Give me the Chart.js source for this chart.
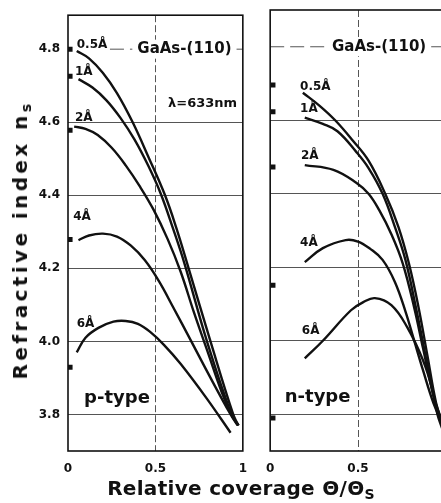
<!DOCTYPE html>
<html lang="en">
<head>
<meta charset="UTF-8">
<title>GaAs-(110) refractive index vs coverage</title>
<script src="https://cdn.jsdelivr.net/npm/chart.js"></script>
<style>
  html, body { margin: 0; padding: 0; background: #fff; overflow: hidden; width: 441px; height: 503px; }
  canvas { position: absolute; top: 0; }
  #leftChart { left: 0; }
  #rightChart { left: 255px; }
  .axisTitle { position: absolute; font-family: "DejaVu Sans", sans-serif; font-weight: bold; color: #111; white-space: nowrap; }
  #yTitle { left: 21px; top: 240px; font-size: 20px; letter-spacing: 3.4px; transform: translate(-50%, -50%) rotate(-90deg); }
  #xTitle { left: 241px; top: 489px; font-size: 20px; letter-spacing: 0.3px; transform: translate(-50%, -50%); }
  sub { font-size: 70%; vertical-align: -4px; }
</style>
</head>
<body>
<canvas id="leftChart" width="258" height="503"></canvas>
<canvas id="rightChart" width="206" height="503"></canvas>
<div class="axisTitle" id="yTitle">Refractive index n<sub>s</sub></div>
<div class="axisTitle" id="xTitle">Relative coverage &Theta;/&Theta;<sub>S</sub></div>

<script>
const xTicks = [0, 0.5, 1];
const yTicks = [3.8, 4.0, 4.2, 4.4, 4.6, 4.8];
const thickness = ['0.5Å', '1Å', '2Å', '4Å', '6Å'];

// p-type panel: [coverage, n_s]
const p05 = [[0.05,4.795],[0.12,4.775],[0.20,4.735],[0.28,4.68],[0.37,4.60],[0.46,4.505],[0.555,4.40],[0.62,4.31],[0.69,4.20],[0.815,4.00],[0.945,3.80],[0.975,3.77]];
const p1  = [[0.06,4.718],[0.14,4.695],[0.22,4.66],[0.30,4.612],[0.38,4.553],[0.46,4.48],[0.53,4.405],[0.60,4.31],[0.665,4.215],[0.795,4.00],[0.935,3.80],[0.975,3.77]];
const p2  = [[0.035,4.588],[0.10,4.582],[0.17,4.565],[0.25,4.53],[0.33,4.482],[0.41,4.425],[0.49,4.36],[0.57,4.28],[0.645,4.19],[0.72,4.08],[0.80,3.97],[0.88,3.86],[0.935,3.80],[0.975,3.77]];
const p4  = [[0.06,4.277],[0.12,4.29],[0.20,4.295],[0.28,4.287],[0.36,4.262],[0.44,4.222],[0.52,4.165],[0.60,4.095],[0.70,4.005],[0.81,3.905],[0.93,3.80],[0.97,3.77]];
const p6  = [[0.05,3.97],[0.10,4.01],[0.174,4.037],[0.26,4.054],[0.33,4.056],[0.40,4.048],[0.47,4.026],[0.55,3.99],[0.645,3.938],[0.79,3.846],[0.93,3.75]];
const pMarkerX = 0.012;
const pMarkerY = [4.80, 4.726, 4.578, 4.279, 3.929];

// n-type panel
const n05 = [[0.186,4.675],[0.28,4.64],[0.37,4.60],[0.47,4.545],[0.56,4.49],[0.655,4.40],[0.73,4.31],[0.79,4.21],[0.845,4.09],[0.895,3.96],[0.945,3.83],[0.985,3.77]];
const n1  = [[0.197,4.607],[0.30,4.59],[0.383,4.57],[0.49,4.514],[0.56,4.47],[0.64,4.40],[0.71,4.31],[0.77,4.22],[0.83,4.09],[0.88,3.97],[0.94,3.83],[0.985,3.77]];
const n2  = [[0.197,4.478],[0.36,4.465],[0.49,4.43],[0.56,4.40],[0.62,4.356],[0.69,4.29],[0.755,4.21],[0.82,4.09],[0.87,3.98],[0.93,3.85],[0.985,3.77]];
const n4  = [[0.197,4.214],[0.30,4.252],[0.43,4.274],[0.50,4.27],[0.57,4.25],[0.64,4.22],[0.71,4.16],[0.77,4.08],[0.82,4.00],[0.87,3.92],[0.93,3.83],[0.985,3.77]];
const n6  = [[0.197,3.952],[0.30,4.00],[0.46,4.083],[0.53,4.105],[0.596,4.116],[0.69,4.097],[0.78,4.037],[0.87,3.947],[0.925,3.865],[0.952,3.80],[0.98,3.76]];
const nMarkerX = 0.016;
const nMarkerY = [4.696, 4.623, 4.473, 4.151, 3.79];

// text placed in data coordinates
const pLabelPos = [[0.05,4.812],[0.04,4.737],[0.04,4.612],[0.03,4.342],[0.05,4.047]];
const nLabelPos = [[0.17,4.692],[0.17,4.632],[0.175,4.502],[0.17,4.267],[0.18,4.027]];

const FONT = '"DejaVu Sans", sans-serif';

const panelDecor = {
  id: 'panelDecor',
  beforeDatasetsDraw(chart, args, opts) {
    const { ctx, chartArea: a, scales: { x, y } } = chart;
    const yy = y.getPixelForValue(4.8);
    ctx.save();
    ctx.strokeStyle = '#555';
    ctx.lineWidth = 1;
    ctx.setLineDash([14, 6]);
    ctx.beginPath();
    ctx.moveTo(x.getPixelForValue(opts.dashFrom), yy);
    ctx.lineTo(a.right, yy);
    ctx.stroke();
    ctx.restore();
  },
  afterDatasetsDraw(chart, args, opts) {
    const { ctx, chartArea: a, scales: { x, y } } = chart;
    ctx.save();
    ctx.fillStyle = '#111';
    ctx.textBaseline = 'middle';
    opts.labels.forEach(l => {
      ctx.font = 'bold ' + l.size + 'px ' + FONT;
      ctx.textAlign = l.align || 'left';
      const px = x.getPixelForValue(l.x), py = y.getPixelForValue(l.y);
      if (l.bg) {
        const w = ctx.measureText(l.text).width + 10;
        ctx.fillStyle = '#fff';
        ctx.fillRect(px - w / 2, py - l.size / 2 - 2, w, l.size + 4);
        ctx.fillStyle = '#111';
      }
      ctx.fillText(l.text, px, py);
    });
    ctx.strokeStyle = '#111';
    ctx.lineWidth = 1.6;
    ctx.setLineDash([]);
    ctx.strokeRect(a.left, a.top, a.width, a.height);
    ctx.restore();
  }
};

function makePanel(id, curves, markerX, markerY, labels, cfg) {
  const datasets = curves.map(c => ({
    data: c.map(p => ({ x: p[0], y: p[1] })),
    borderColor: '#111',
    borderWidth: 2.4,
    pointRadius: 0,
    tension: 0.4,
    fill: false
  }));
  datasets.push({
    data: markerY.map(v => ({ x: markerX, y: v })),
    showLine: false,
    pointStyle: 'rect',
    pointRadius: 3.5,
    backgroundColor: '#111',
    borderColor: '#111',
    borderWidth: 0
  });

  return new Chart(document.getElementById(id), {
    type: 'line',
    data: { datasets },
    options: {
      responsive: false,
      animation: false,
      layout: { padding: { top: cfg.top, right: cfg.right, bottom: 0, left: 0 } },
      plugins: {
        legend: { display: false },
        tooltip: { enabled: false },
        panelDecor: { labels, dashFrom: cfg.dashFrom }
      },
      scales: {
        x: {
          type: 'linear', min: 0, max: 1,
          afterBuildTicks: s => { s.ticks = xTicks.map(v => ({ value: v })); },
          afterFit: s => { s.height = 52; },
          grid: {
            drawTicks: false, lineWidth: 1,
            color: c => (c.tick && c.tick.value === 0.5) ? '#555' : 'rgba(0,0,0,0)'
          },
          border: { display: false, dash: [7, 3] },
          ticks: {
            padding: 11, color: '#111', autoSkip: false, maxRotation: 0,
            font: { family: FONT, weight: 'bold', size: 12 },
            callback: v => v === 0.5 ? '0.5' : String(v)
          }
        },
        y: {
          type: 'linear', min: 3.7, max: cfg.yMax,
          afterBuildTicks: s => { s.ticks = yTicks.map(v => ({ value: v })); },
          afterFit: s => { s.width = cfg.yWidth; },
          grid: {
            drawTicks: false, lineWidth: 1,
            color: c => (c.tick && c.tick.value < 4.7) ? '#555' : 'rgba(0,0,0,0)'
          },
          border: { display: false },
          ticks: {
            display: cfg.showY, padding: 8, color: '#111',
            font: { family: FONT, weight: 'bold', size: 12 },
            callback: v => v.toFixed(1)
          }
        }
      }
    },
    plugins: [panelDecor]
  });
}

const pLabels = thickness.map((t, i) => ({ text: t, x: pLabelPos[i][0], y: pLabelPos[i][1], size: 12 }))
  .concat([
    { text: 'GaAs-(110)', x: 0.666, y: 4.8, size: 15, align: 'center', bg: true },
    { text: 'λ=633nm', x: 0.77, y: 4.65, size: 13, align: 'center' },
    { text: 'p-type', x: 0.28, y: 3.845, size: 18, align: 'center' }
  ]);

const nLabels = thickness.map((t, i) => ({ text: t, x: nLabelPos[i][0], y: nLabelPos[i][1], size: 12 }))
  .concat([
    { text: 'GaAs-(110)', x: 0.62, y: 4.8, size: 15, align: 'center', bg: true },
    { text: 'n-type', x: 0.27, y: 3.845, size: 18, align: 'center' }
  ]);

makePanel('leftChart', [p05, p1, p2, p4, p6], pMarkerX, pMarkerY, pLabels,
  { top: 13, right: 6, yMax: 4.893, yWidth: 68, showY: true, dashFrom: 0.24 });

makePanel('rightChart', [n05, n1, n2, n4, n6], nMarkerX, nMarkerY, nLabels,
  { top: 10, right: 10, yMax: 4.9, yWidth: 8, showY: false, dashFrom: 0 });
</script>
</body>
</html>
